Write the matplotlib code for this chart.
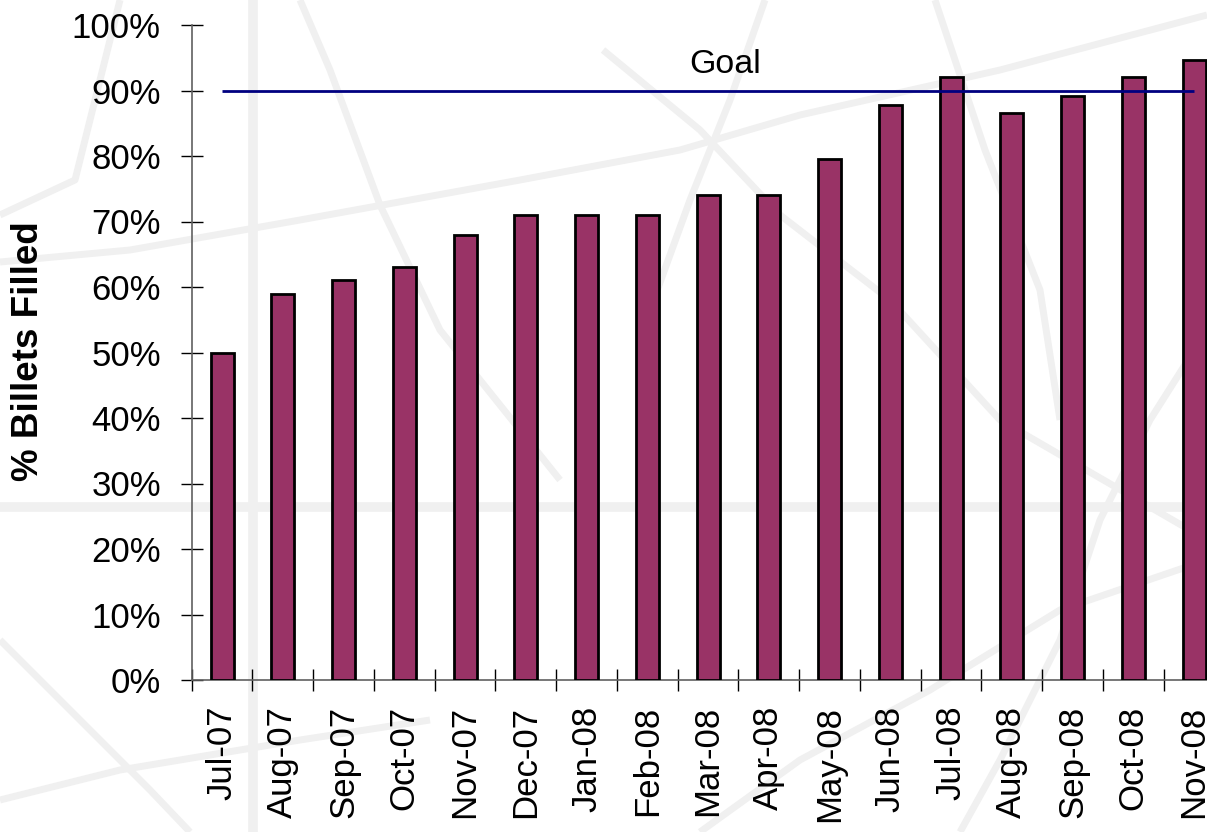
import matplotlib
matplotlib.use("Agg")
import matplotlib.pyplot as plt
from matplotlib.ticker import FixedLocator, PercentFormatter

plt.rcParams['font.family'] = ['Liberation Sans', 'DejaVu Sans']

months = ['Jul-07', 'Aug-07', 'Sep-07', 'Oct-07', 'Nov-07', 'Dec-07',
          'Jan-08', 'Feb-08', 'Mar-08', 'Apr-08', 'May-08', 'Jun-08',
          'Jul-08', 'Aug-08', 'Sep-08', 'Oct-08', 'Nov-08']
filled = [50, 59, 61, 63, 68, 71, 71, 71, 74, 74, 79.5, 87.8,
          92.1, 86.5, 89.1, 92.1, 94.7]
goal = 90
yticks = list(range(0, 101, 10))

fig = plt.figure(figsize=(12.07, 8.32), dpi=100)
fig.patch.set_facecolor('white')

# faint network pattern behind the chart (figure pixels, y from top)
W, H = 1207, 832
bands = [
    [(253, 0), (253, 832)],
    [(0, 507), (1207, 507)],
]
texture = [
    [(120, 0), (75, 180), (0, 215)],
    [(300, 0), (330, 70), (380, 205), (440, 330), (560, 480)],
    [(0, 262), (130, 250), (300, 220), (520, 180), (680, 150), (800, 115), (1000, 70), (1207, 15)],
    [(603, 50), (700, 130), (780, 215), (890, 300), (1000, 420), (1207, 540)],
    [(765, 0), (730, 100), (690, 200), (650, 310)],
    [(935, 0), (985, 150), (1040, 290), (1060, 420)],
    [(0, 640), (60, 700), (150, 790), (190, 832)],
    [(0, 800), (120, 770), (300, 740), (430, 720)],
    [(700, 832), (800, 760), (930, 690), (1060, 610), (1207, 560)],
    [(1207, 330), (1150, 420), (1100, 520), (1060, 640), (1000, 760), (960, 832)],
]
for path, lw in [(p, 7) for p in bands] + [(p, 5) for p in texture]:
    xs = [pt[0] / W for pt in path]
    ys = [1 - pt[1] / H for pt in path]
    fig.add_artist(plt.Line2D(xs, ys, color='#f0f0f0', lw=lw, zorder=0,
                              solid_capstyle='butt'))

ax = fig.add_axes([191.7 / W, 152 / H, 1032.8 / W, 655 / H])
ax.set_facecolor('none')

x = list(range(len(months)))
ax.bar(x, filled, width=0.38, color='#993366', edgecolor='black',
       linewidth=2.0, zorder=3)
ax.hlines(goal, 0, len(months) - 1, color='#000080', lw=2.0, zorder=4)
ax.text(8.28, 92.6, 'Goal', ha='center', va='baseline', fontsize=24.5)

ax.set_xlim(-0.5, len(months) - 0.5)
ax.set_ylim(0, 100)

ax.set_yticks(yticks)
ax.yaxis.set_major_formatter(PercentFormatter(decimals=0))
ax.tick_params(axis='y', direction='inout', length=16.5, width=1.0,
               pad=14, labelsize=25)

ax.set_xticks(x)
ax.set_xticklabels(months, rotation=90, fontsize=25)
ax.xaxis.set_minor_locator(FixedLocator([i - 0.5 for i in range(len(months) + 1)]))
ax.tick_params(axis='x', which='major', length=0, pad=18.5)
ax.tick_params(axis='x', which='minor', direction='inout', length=16.5, width=1.0)

for side in ('top', 'right'):
    ax.spines[side].set_visible(False)
for side in ('left', 'bottom'):
    ax.spines[side].set_color('#606060')
    ax.spines[side].set_linewidth(1.2)

fig.text(29 / W, 1 - 351.5 / H, '% Billets Filled', rotation=90,
         ha='center', va='center', fontsize=26.5, fontweight='bold')

fig.savefig('out.png', dpi=100)
